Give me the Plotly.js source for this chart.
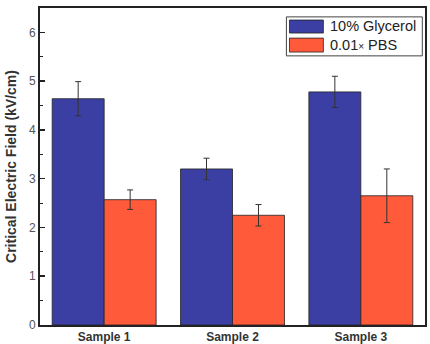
<!DOCTYPE html>
<html>
<head>
<meta charset="utf-8">
<script src="https://cdn.plot.ly/plotly-3.0.1.min.js"></script>
<style>
  html, body { margin: 0; padding: 0; background: #fff; }
  #chart { width: 430px; height: 344px; }
</style>
</head>
<body>
<div id="chart"></div>
<script>
// Critical electric field per sample, two buffer conditions
const samples = ['Sample 1', 'Sample 2', 'Sample 3'];
const glycerolMean = [4.64, 3.20, 4.78];
const glycerolErr  = [0.35, 0.22, 0.32];
const pbsMean = [2.57, 2.25, 2.65];
const pbsErr  = [0.20, 0.22, 0.55];
const seriesNames = ['10% Glycerol', '0.01\u00d7 PBS'];

const blue = '#3b3fa3';
const red = '#ff5a3a';

const errStyle = (arr) => ({
  type: 'data', array: arr, visible: true,
  color: '#333', thickness: 1, width: 3
});

const traces = [
  {
    type: 'bar', name: seriesNames[0], x: samples, y: glycerolMean,
    error_y: errStyle(glycerolErr),
    marker: { color: blue, line: { color: '#222', width: 0.8 } }
  },
  {
    type: 'bar', name: seriesNames[1], x: samples, y: pbsMean,
    error_y: errStyle(pbsErr),
    marker: { color: red, line: { color: '#222', width: 0.8 } }
  }
];

// legend drawn as framed box with wide colour swatches
const legendShapes = [
  { type: 'rect', xref: 'paper', yref: 'paper', x0: 0.640, x1: 0.993, y0: 0.849, y1: 0.972,
    line: { color: '#444', width: 1 }, fillcolor: '#fff' },
  { type: 'rect', xref: 'paper', yref: 'paper', x0: 0.648, x1: 0.736, y0: 0.921, y1: 0.962,
    line: { color: '#222', width: 0.8 }, fillcolor: blue },
  { type: 'rect', xref: 'paper', yref: 'paper', x0: 0.648, x1: 0.736, y0: 0.861, y1: 0.905,
    line: { color: '#222', width: 0.8 }, fillcolor: red }
];
const legendText = [
  { xref: 'paper', yref: 'paper', x: 0.747, y: 0.942, xanchor: 'left', yanchor: 'middle',
    text: seriesNames[0], showarrow: false, font: { family: 'Liberation Sans, Arial', size: 14.5, color: '#222' } },
  { xref: 'paper', yref: 'paper', x: 0.747, y: 0.883, xanchor: 'left', yanchor: 'middle',
    text: '0.01<span style="font-size:10px">\u00d7</span> PBS', showarrow: false,
    font: { family: 'Liberation Sans, Arial', size: 14.5, color: '#222' } }
];

const layout = {
  width: 430, height: 344,
  margin: { l: 40, r: 5, t: 8, b: 19 },
  paper_bgcolor: '#fff', plot_bgcolor: '#fff',
  showlegend: false,
  barmode: 'group', bargap: 0.19, bargroupgap: 0,
  font: { family: 'Liberation Sans, Arial', color: '#333' },
  xaxis: {
    range: [-0.5, 2.5],
    showline: true, linecolor: '#222', linewidth: 2, mirror: true,
    ticks: '', showgrid: false,
    tickfont: { size: 12, color: '#333', weight: 'bold' }
  },
  yaxis: {
    range: [0, 6.5], dtick: 1, tick0: 0,
    showline: true, linecolor: '#222', linewidth: 2, mirror: true,
    ticks: 'inside', ticklen: 5, tickwidth: 1.5, tickcolor: '#222',
    minor: { dtick: 0.5, ticks: 'inside', ticklen: 3, tickwidth: 1, tickcolor: '#222', showgrid: false },
    showgrid: false, zeroline: false,
    tickfont: { size: 12, color: '#555' },
    title: { text: 'Critical Electric Field (kV/cm)', standoff: 9,
             font: { size: 14, color: '#333', weight: 'bold' } }
  },
  shapes: legendShapes,
  annotations: legendText
};

Plotly.newPlot('chart', traces, layout, { displayModeBar: false, staticPlot: true });
</script>
</body>
</html>
